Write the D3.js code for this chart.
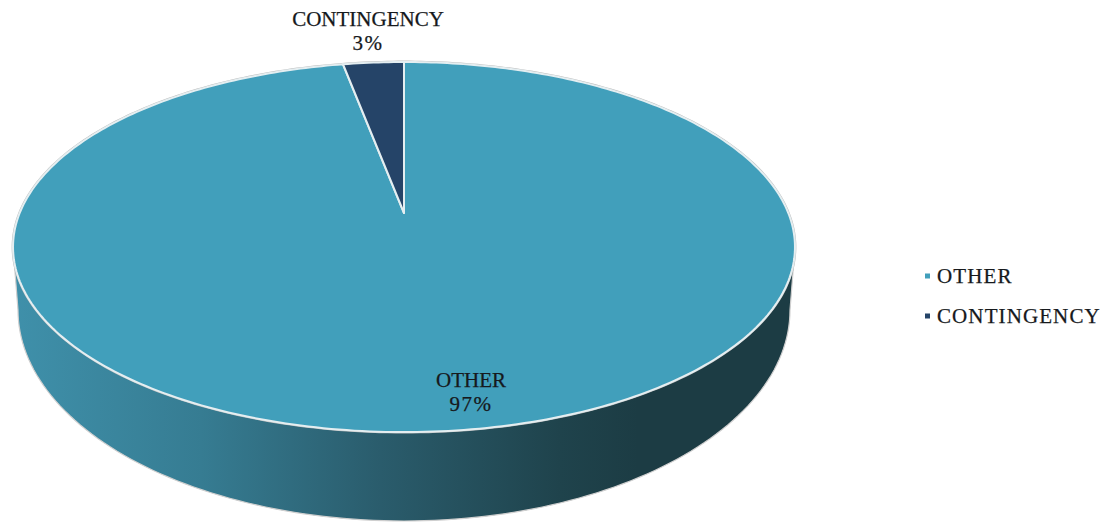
<!DOCTYPE html>
<html>
<head>
<meta charset="utf-8">
<script src="https://cdn.jsdelivr.net/npm/d3@7"></script>
<style>
html,body{margin:0;padding:0;background:#fff}
svg{display:block}
text{font-family:"Liberation Serif",serif;fill:#16191c;stroke:#16191c;stroke-width:0.25}
</style>
</head>
<body>
<svg id="chart" width="1105" height="522"></svg>
<script>
// Budget share shown as a tilted 3D pie
const categories = ["OTHER", "CONTINGENCY"];
const shares = [97, 3];
const sliceColors = ["#419fbb", "#254468"];
const legendItems = ["OTHER", "CONTINGENCY"];

const svg = d3.select("#chart");
const W = 1105, H = 522;

// Tilted-disc projection of the top face: the far side is foreshortened
const apex = {x: 404, y: 213};
const k = 0.184, A = 384.3, B = 178.8;
const project = (angle, r = 1) => {
  const u = r * Math.sin(angle), v = r * Math.cos(angle);
  const d = 1 + k * v;
  return [apex.x + A * u / d, apex.y - B * v / d];
};

const pie = d3.pie().sort(null).value(d => d);
const arcs = pie(shares);
const line = d3.line();

function slicePath(a) {
  const n = Math.max(8, Math.ceil((a.endAngle - a.startAngle) * 60));
  const rim = d3.range(n + 1).map(i =>
    project(a.startAngle + (a.endAngle - a.startAngle) * i / n));
  return line([[apex.x, apex.y], ...rim]) + "Z";
}

// Wall shading runs from the lit left edge to the dark right edge
const defs = svg.append("defs");
const wall = defs.append("linearGradient").attr("id", "wall")
  .attr("gradientUnits", "userSpaceOnUse")
  .attr("x1", 14).attr("x2", 794).attr("y1", 0).attr("y2", 0);
[[0, "#3f90aa"], [0.24, "#367c92"], [0.47, "#2a5c6c"], [0.70, "#1f434c"], [0.8, "#1c3c44"], [1, "#1c3c44"]]
  .forEach(([o, c]) => wall.append("stop").attr("offset", o).attr("stop-color", c));

// Wall outline: the lower rim of the base, closed up to the top face
const base = {cx: 404, cy: 310, rx: 386, ry: 211};
const baseRim = d3.range(0, 121).map(i => {
  const t = Math.PI * i / 120;
  return [base.cx - base.rx * Math.cos(t), base.cy + base.ry * Math.sin(t)];
});
const leftTop = project(-Math.PI / 2 - Math.asin(k));
const rightTop = project(Math.PI / 2 + Math.asin(k));
svg.append("path")
  .attr("d", line([leftTop, ...baseRim, rightTop]) + "Z")
  .attr("fill", "url(#wall)")
  .attr("stroke", "#cfcfcf")
  .attr("stroke-width", 1.2);

// Thin grey halo behind the top face
const full = d3.range(0, 361).map(i => project(i * Math.PI / 180));
svg.append("path")
  .attr("d", line(full) + "Z")
  .attr("fill", "none")
  .attr("stroke", "#bdbdbd")
  .attr("stroke-width", 2.8);

svg.append("g").selectAll("path").data(arcs).join("path")
  .attr("d", slicePath)
  .attr("fill", (d, i) => sliceColors[i])
  .attr("stroke", "#e4eef1")
  .attr("stroke-width", 2)
  .attr("stroke-linejoin", "round");

// Data labels: category name above its percentage
const labelPlaces = [{x: 471, y: 387}, {x: 368, y: 26}];
const labels = svg.append("g").attr("text-anchor", "middle");
categories.forEach((c, i) => {
  const p = labelPlaces[i];
  labels.append("text").attr("x", p.x).attr("y", p.y)
    .attr("font-size", 21).text(c);
  labels.append("text").attr("x", p.x).attr("y", p.y + 24)
    .attr("font-size", 21).attr("letter-spacing", 1.5).text(shares[i] + "%");
});

// Legend
const legendY = d3.scalePoint().domain(legendItems).range([276, 316]);
const legend = svg.append("g");
legendItems.forEach((c, i) => {
  legend.append("rect").attr("x", 925).attr("y", legendY(c) - 2.5)
    .attr("width", 5).attr("height", 5)
    .attr("fill", sliceColors[i]);
  legend.append("text").attr("x", 937).attr("y", legendY(c) + 6.5)
    .attr("font-size", 21).attr("letter-spacing", 1.1).text(c);
});
</script>
</body>
</html>
